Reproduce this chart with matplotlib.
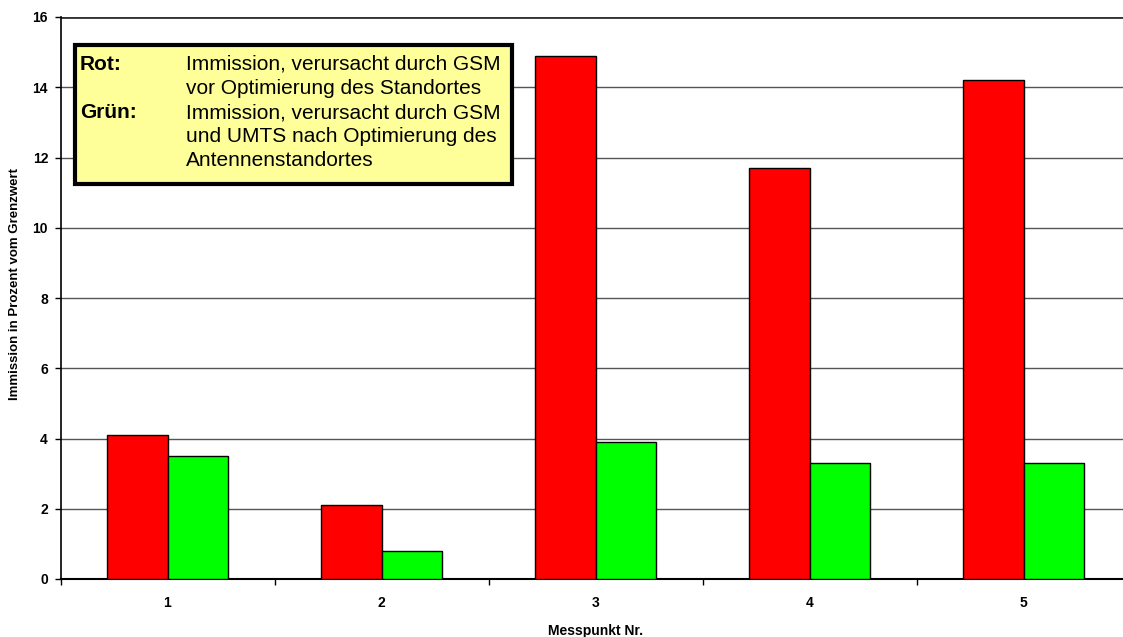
#! /usr/bin/env python3
"""
Immission before and after site optimisation, grouped bar chart.
"""

from matplotlib.patches import Rectangle
import matplotlib.pyplot as plt
import numpy as np

categories = ["1", "2", "3", "4", "5"]
rot_values = [4.1, 2.1, 14.9, 11.7, 14.2]
gruen_values = [3.5, 0.8, 3.9, 3.3, 3.3]
y_ticks = [0, 2, 4, 6, 8, 10, 12, 14, 16]


def main():
    plt.rcParams["font.family"] = ["Liberation Sans", "DejaVu Sans"]
    fig = plt.figure(figsize=(11.23, 6.37), dpi=100)
    width_px, height_px = 1123, 637
    # axes run slightly past the right edge of the picture, as in the original
    ax = fig.add_axes(
        (
            60.5 / width_px,
            1 - 579 / height_px,
            1070 / width_px,
            562 / height_px
        )
    )
    x = np.arange(len(categories))
    bar_width = 0.285
    ax.bar(
        x - bar_width / 2,
        rot_values,
        width=bar_width,
        color="#ff0000",
        edgecolor="black",
        linewidth=1.0,
        zorder=3
    )
    ax.bar(
        x + bar_width / 2,
        gruen_values,
        width=bar_width,
        color="#00ff00",
        edgecolor="black",
        linewidth=1.0,
        zorder=3
    )
    ax.set_xlim(-0.5, len(categories) - 0.5)
    ax.set_ylim(0, 16)
    ax.set_yticks(y_ticks)
    ax.set_yticklabels([str(v) for v in y_ticks], fontweight="bold")
    ax.yaxis.grid(True, color="#555555", linewidth=1.0, zorder=0)
    ax.set_axisbelow(True)
    ax.set_xticks(x)
    ax.set_xticklabels(categories, fontweight="bold")
    ax.set_xticks(np.arange(len(categories) + 1) - 0.5, minor=True)
    ax.tick_params(axis="x", which="major", length=0, pad=12, labelsize=10)
    ax.tick_params(
        axis="x", which="minor", length=4, width=1, direction="out"
    )
    ax.tick_params(
        axis="y", length=4, width=1, pad=5, labelsize=10, direction="out"
    )
    for side in ["top", "right"]:
        ax.spines[side].set_visible(False)
    ax.spines["left"].set_linewidth(1.2)
    ax.spines["bottom"].set_linewidth(1.5)
    ax.axhline(y=16, color="#333333", linewidth=2.0, zorder=1)
    fig.text(
        596 / width_px,
        1 - 631 / height_px,
        "Messpunkt Nr.",
        fontsize=10,
        fontweight="bold",
        ha="center",
        va="center"
    )
    fig.text(
        15 / width_px,
        1 - 284 / height_px,
        "Immission in Prozent vom Grenzwert",
        fontsize=9.5,
        fontweight="bold",
        rotation=90,
        ha="center",
        va="center"
    )
    # note box, in pixel positions of the figure
    box = Rectangle(
        (75 / width_px, 1 - 184 / height_px),
        437 / width_px,
        139 / height_px,
        transform=fig.transFigure,
        facecolor="#ffff99",
        edgecolor="black",
        linewidth=3,
        zorder=5
    )
    fig.patches.append(box)
    fig.text(
        80 / width_px,
        1 - 55 / height_px,
        "Rot:\n\nGrün:",
        fontsize=15,
        fontweight="bold",
        va="top",
        ha="left",
        linespacing=1.34,
        zorder=6
    )
    fig.text(
        186 / width_px,
        1 - 55 / height_px,
        "Immission, verursacht durch GSM\n"
        "vor Optimierung des Standortes\n"
        "Immission, verursacht durch GSM\n"
        "und UMTS nach Optimierung des\n"
        "Antennenstandortes",
        fontsize=15,
        va="top",
        ha="left",
        linespacing=1.34,
        zorder=6
    )
    fig.savefig("out.png", dpi=100)


if __name__ == "__main__":
    main()
